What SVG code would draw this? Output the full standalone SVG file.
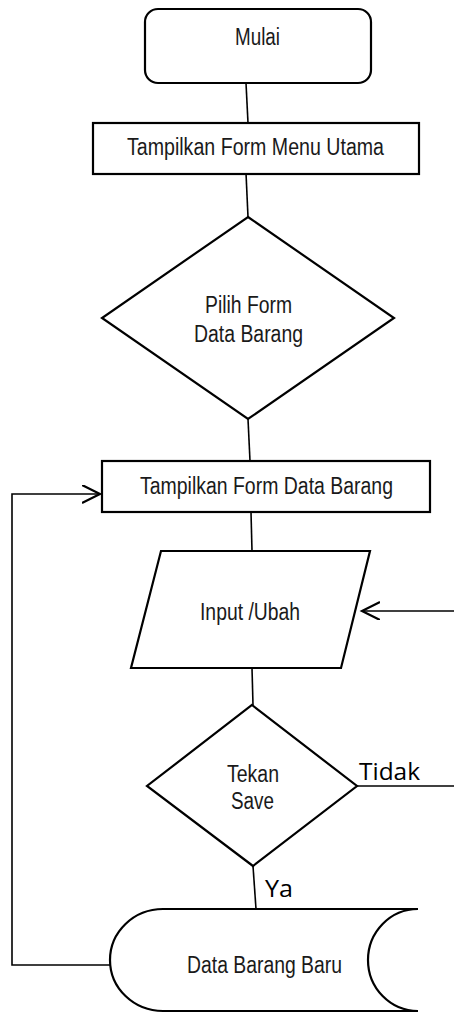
<svg xmlns="http://www.w3.org/2000/svg" width="454" height="1015" viewBox="0 0 454 1015">
  <style>
    .shape { fill: #ffffff; stroke: #000000; stroke-width: 2.2; stroke-linejoin: miter; }
    .line { fill: none; stroke: #000000; stroke-width: 1.6; }
    .label { font-family: "Liberation Sans Narrow", "Liberation Sans", Arial, sans-serif; font-size: 23px; fill: #1a1a1a; text-anchor: middle; }
    .branch { font-family: "Open Sans", "Noto Sans", sans-serif; font-size: 23px; fill: #000000; }
  </style>
  <defs>
    <marker id="chevron" markerUnits="userSpaceOnUse" markerWidth="22" markerHeight="22" refX="18" refY="9" orient="auto">
      <path d="M0,0 L18,9 L0,18" fill="none" stroke="#000000" stroke-width="2.2"/>
    </marker>
  </defs>

  <!-- connectors -->
  <g id="connectors">
    <line class="line" x1="246" y1="83" x2="248" y2="123"/>
    <line class="line" x1="246" y1="173" x2="248" y2="217"/>
    <line class="line" x1="248" y1="419" x2="250" y2="461"/>
    <line class="line" x1="251" y1="512" x2="252" y2="551"/>
    <line class="line" x1="252" y1="668" x2="253" y2="705"/>
    <line class="line" x1="253" y1="866" x2="256" y2="909"/>
    <line class="line" x1="357" y1="786" x2="454" y2="786"/>
    <line class="line" x1="454" y1="611" x2="362" y2="611" marker-end="url(#chevron)"/>
    <polyline class="line" points="110,965 12,965 12,494 100,494" marker-end="url(#chevron)"/>
    <text class="branch" x="359" y="780" textLength="61" lengthAdjust="spacingAndGlyphs">Tidak</text>
    <text class="branch" x="265" y="897" textLength="28" lengthAdjust="spacingAndGlyphs">Ya</text>
  </g>

  <g id="start">
    <rect class="shape" x="145" y="9" width="226" height="74" rx="13" ry="13"/>
    <text class="label" x="257.5" y="45" textLength="45" lengthAdjust="spacingAndGlyphs">Mulai</text>
  </g>

  <g id="menu-utama">
    <rect class="shape" x="93" y="123" width="326" height="51"/>
    <text class="label" x="255.5" y="155" textLength="257" lengthAdjust="spacingAndGlyphs">Tampilkan Form Menu Utama</text>
  </g>

  <g id="pilih-form">
    <polygon class="shape" points="248,217 394,318 248,419 102,318"/>
    <text class="label" x="248.5" y="313" textLength="87" lengthAdjust="spacingAndGlyphs">Pilih Form</text>
    <text class="label" x="248.5" y="342" textLength="109" lengthAdjust="spacingAndGlyphs">Data Barang</text>
  </g>

  <g id="form-data-barang">
    <rect class="shape" x="102" y="461" width="328" height="51"/>
    <text class="label" x="266.5" y="494" textLength="253" lengthAdjust="spacingAndGlyphs">Tampilkan Form Data Barang</text>
  </g>

  <g id="input-ubah">
    <polygon class="shape" points="161,551 370,551 341,668 131,668"/>
    <text class="label" x="250" y="620" textLength="100" lengthAdjust="spacingAndGlyphs">Input /Ubah</text>
  </g>

  <g id="tekan-save">
    <polygon class="shape" points="252,705 357,786 253,866 147,786"/>
    <text class="label" x="253" y="782" textLength="52" lengthAdjust="spacingAndGlyphs">Tekan</text>
    <text class="label" x="252.5" y="809" textLength="43" lengthAdjust="spacingAndGlyphs">Save</text>
  </g>

  <g id="data-barang-baru">
    <path class="shape" d="M418,909 L163,909 A53,51 0 0 0 163,1011 L418,1011 A50,51 0 0 1 418,909 Z"/>
    <text class="label" x="264.5" y="973" textLength="155" lengthAdjust="spacingAndGlyphs">Data Barang Baru</text>
  </g>
</svg>
